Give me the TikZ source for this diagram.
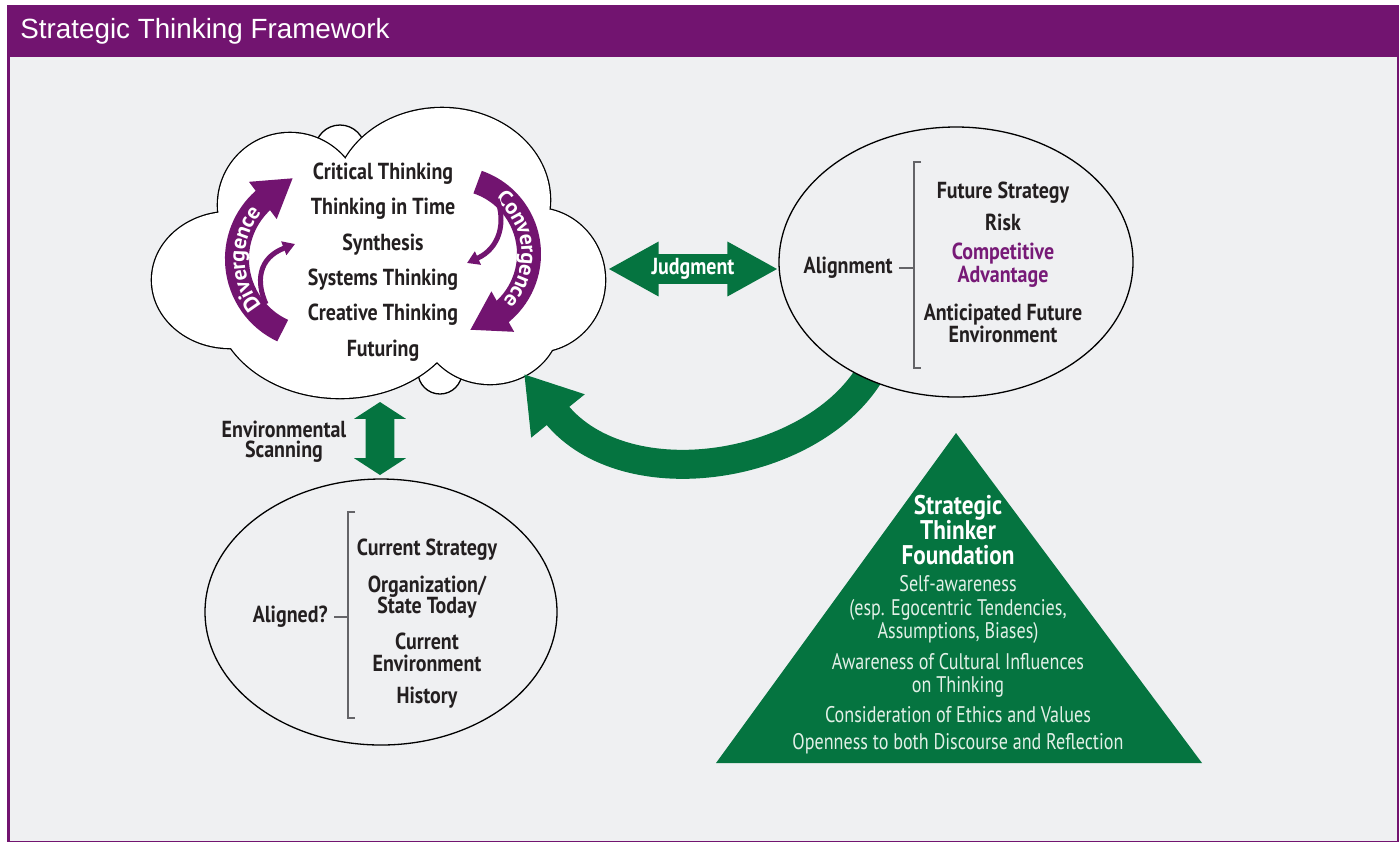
\documentclass[tikz,border=0pt]{standalone}
\usepackage{fontspec}
\newfontfamily\headfont{Liberation Sans}
\newfontfamily\lblfont[FakeStretch=0.86]{PT Sans}
\newfontfamily\notefont[FakeStretch=0.8]{PT Sans}
\newfontfamily\swirlfont{PT Sans}
\usepackage{tikz}
\usetikzlibrary{arrows.meta, positioning, shapes.geometric, shapes.arrows, decorations.text}
\usepackage{xcolor}
\definecolor{stpurple}{RGB}{114,20,112}
\definecolor{advpurple}{RGB}{119,26,119}
\definecolor{stgreen}{RGB}{5,116,64}
\definecolor{panelgray}{RGB}{239,240,242}
\definecolor{inkdark}{RGB}{35,31,32}
\definecolor{rulegray}{RGB}{100,100,104}
\definecolor{palegreen}{RGB}{226,240,231}

\begin{document}
\begin{tikzpicture}[
    x=0.5pt, y=-0.5pt,
    lbl/.style={font=\lblfont\bfseries\fontsize{11.6}{10.8}\selectfont, text=inkdark,
                align=center, inner sep=0pt},
    oval/.style={ellipse, draw=black, line width=0.65pt, fill=panelgray, inner sep=0pt},
    fatarrow/.style={double arrow, fill=stgreen, draw=none},
    tick/.style={draw=rulegray, line width=0.6pt},
    swirl/.style={draw=stpurple, line width=12pt, -{Triangle[width=21.8pt,length=18.8pt]}},
    thinswirl/.style={draw=stpurple, line width=2.5pt, -{Triangle[width=7pt,length=6pt]}},
    swirltext/.style={decorate, decoration={text along path, text align=fit to path, raise=-3.8pt,
                text={|\swirlfont\bfseries\fontsize{11}{11}\selectfont\color{white}|#1}}},
    found/.style={font=\notefont\fontsize{11.3}{11.75}\selectfont, text=palegreen,
                align=center, inner sep=0pt},
]
    \useasboundingbox (0,0) rectangle (1400,842);

    % frame and title bar
    \fill[white] (0,0) rectangle (1400,842);
    \fill[stpurple] (7,5) rectangle (1399,842);
    \fill[panelgray] (9.5,57) rectangle (1396.5,840.5);
    \node[anchor=base west, font=\headfont\fontsize{13.9}{16}\selectfont, text=white, inner sep=0pt]
        (title) at (20,38.5) {Strategic Thinking Framework};

    % cloud: small bumps behind, then the lobes (stroke all, then fill all)
    \foreach \cx/\cy/\rx/\ry in {340/150/25/25, 440/372/22/22}
        \draw[line width=0.65pt, fill=white] (\cx,\cy) ellipse [x radius=\rx, y radius=\ry];
    \def\cloudlobes{230/280/78/68, 290/205/72/72, 442/200/108/92, 535/280/70/72,
                    490/320/70/64, 340/300/125/98, 380/260/150/100}
    \foreach \cx/\cy/\rx/\ry in \cloudlobes
        \draw[line width=1.3pt] (\cx,\cy) ellipse [x radius=\rx, y radius=\ry];
    \foreach \cx/\cy/\rx/\ry in \cloudlobes
        \fill[white] (\cx,\cy) ellipse [x radius=\rx, y radius=\ry];

    \node[lbl, font=\lblfont\bfseries\fontsize{11.6}{17.7}\selectfont] (skills) at (383,262)
        {Critical Thinking\\Thinking in Time\\Synthesis\\Systems Thinking\\Creative Thinking\\Futuring};

    % divergence / convergence swirls
    \draw[swirl] (282.7,330.6) arc[start angle=114.9, end angle=228, radius=79] -- (293,178);
    \path[swirltext=Divergence] (255.5,309.8) arc[start angle=140, end angle=220, radius=79];
    \draw[thinswirl] (266,304) .. controls (256,282) and (258,258) .. (295,244);

    \draw[swirl] (477.6,182.1) arc[start angle=-71.1, end angle=49.6, radius=76] -- (470,330);
    \path[swirltext=Convergence] (499.8,194.1) arc[start angle=-52, end angle=43, radius=76];
    \draw[thinswirl] (497,199) .. controls (506,222) and (500,248) .. (467,263);

    % feedback arrow back into the cloud
    \coordinate (fbstart) at (872,370);
    \coordinate (fbtip) at (524,374);
    \draw[stgreen, line width=14.5pt, -{Triangle[width=32.5pt,length=27pt]}]
        (fbstart) .. controls (815,470) and (626,500) .. (fbtip);

    % future side
    \node[oval, minimum width=177pt, minimum height=135pt] (futr) at (956,262) {};
    \coordinate (fbrk) at (914,268);
    \node[lbl, left=10.5pt of fbrk] (alignlbl) {Alignment};
    \draw[tick] (921,162) -- (914,162) -- (914,368) -- (921,368);
    \draw[tick] ([xshift=3pt]alignlbl.east) -- (fbrk);
    \node[lbl] (fstrat) at (1003,193) {Future Strategy};
    \node[lbl] (risk) at (1003,222) {Risk};
    \node[lbl, text=advpurple, font=\lblfont\bfseries\fontsize{11.6}{11.5}\selectfont]
        (compadv) at (1003,265.5) {Competitive\\Advantage};
    \node[lbl] (antic) at (1003,323.5) {Anticipated Future\\Environment};

    % current side
    \node[oval, minimum width=176pt, minimum height=133pt] (curr) at (381,612) {};
    \coordinate (cbrk) at (348,617);
    \node[lbl, left=10pt of cbrk] (alignq) {Aligned?};
    \draw[tick] (355,512) -- (348,512) -- (348,718) -- (355,718);
    \draw[tick] ([xshift=3pt]alignq.east) -- (cbrk);
    \node[lbl] (cstrat) at (427,550) {Current Strategy};
    \node[lbl] (orgst) at (427,597) {Organization/\\State Today};
    \node[lbl] (cenv) at (427,652.5) {Current\\Environment};
    \node[lbl] (hist) at (427,698) {History};

    % links
    \node[fatarrow, font=\lblfont\bfseries\fontsize{11.6}{10.8}\selectfont, text=white,
          minimum height=84pt, minimum width=26.5pt, double arrow head extend=6.25pt,
          double arrow tip angle=58, inner xsep=0pt, inner ysep=2pt] (judg) at (693,269) {Judgment};
    \node[fatarrow, shape border rotate=90, minimum height=36.5pt, minimum width=25.5pt,
          double arrow head extend=5.75pt, double arrow tip angle=114, inner sep=7pt]
        (scan) at (380,438.5) {};
    \node[lbl, font=\lblfont\bfseries\fontsize{11.6}{10}\selectfont] (scanlbl) at (284,442)
        {Environmental\\Scanning};

    % foundation triangle
    \fill[stgreen] (956,433) -- (1202,763) -- (716,763) -- cycle;
    \node[lbl, text=white, font=\lblfont\bfseries\fontsize{13.5}{12.5}\selectfont] (foundhd) at (958,530)
        {Strategic\\Thinker\\Foundation};
    \node[found] (selfaw) at (958,609.5) {Self-awareness\\(esp. Egocentric Tendencies,\\Assumptions, Biases)};
    \node[found] (cultur) at (958,675.5) {Awareness of Cultural Influences\\on Thinking};
    \node[found] (ethics) at (958,715) {Consideration of Ethics and Values};
    \node[found] (opens) at (958,744) {Openness to both Discourse and Reflection};
\end{tikzpicture}
\end{document}
